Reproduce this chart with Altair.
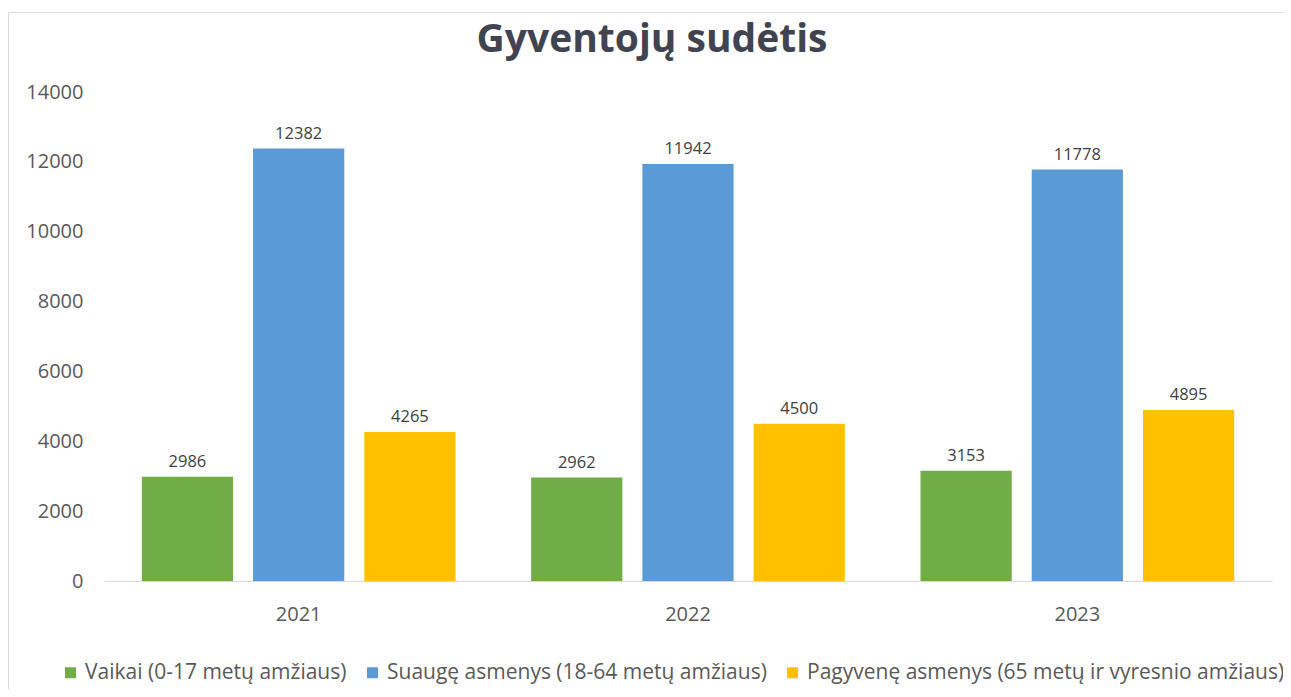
import altair as alt
import pandas as pd

years = ["2021", "2022", "2023"]
groups = [
    "Vaikai (0-17 metų amžiaus)",
    "Suaugę asmenys (18-64 metų amžiaus)",
    "Pagyvenę asmenys (65 metų ir vyresnio amžiaus)",
]
vaikai = [2986, 2962, 3153]
suauge = [12382, 11942, 11778]
pagyvene = [4265, 4500, 4895]
colors = ["#70ad47", "#5b9bd5", "#ffc000"]
y_ticks = [0, 2000, 4000, 6000, 8000, 10000, 12000, 14000]

rows = []
for series, vals in zip(groups, [vaikai, suauge, pagyvene]):
    for yr, v in zip(years, vals):
        rows.append({"Metai": yr, "Grupė": series, "Reikšmė": v})
df = pd.DataFrame(rows)

FONT = "Open Sans"
W, H = 1168, 489

x = alt.X("Metai:N", sort=years, title=None,
          scale=alt.Scale(paddingInner=0, paddingOuter=0),
          axis=alt.Axis(labelAngle=0, ticks=False, domainColor="#d9d9d9",
                        labelFontSize=20, labelColor="#595959", labelPadding=23,
                        labelFont=FONT))
xo = alt.XOffset("Grupė:N", sort=groups,
                 scale=alt.Scale(paddingInner=0.18, paddingOuter=0.34))
y = alt.Y("Reikšmė:Q", title=None,
          scale=alt.Scale(domain=[0, 14000], nice=False),
          axis=alt.Axis(values=y_ticks, grid=False, domain=False, ticks=False,
                        format="d",
                        labelFontSize=20, labelColor="#595959", labelPadding=21,
                        labelFont=FONT))
color = alt.Color("Grupė:N", sort=groups,
                  scale=alt.Scale(domain=groups, range=colors),
                  legend=alt.Legend(title=None, orient="none", direction="horizontal",
                                    legendX=-44, legendY=570, padding=0,
                                    symbolType="square",
                                    symbolSize=121, symbolStrokeWidth=0,
                                    labelFontSize=21, labelColor="#595959",
                                    labelFont=FONT, columnPadding=15, labelLimit=0,
                                    symbolOffset=0, labelOffset=4))

base = alt.Chart(df)
bars = base.mark_bar().encode(x=x, xOffset=xo, y=y, color=color)
labels = base.mark_text(baseline="alphabetic", dy=-10, fontSize=16.5, color="#404040",
                        font=FONT).encode(
    x=x, xOffset=xo, y=y, text=alt.Text("Reikšmė:Q", format="d"))

border = alt.Chart(pd.DataFrame({"a": [0]})).mark_rect(
    fill=None, stroke="#d9d9d9", strokeWidth=1, clip=False).encode(
    x=alt.value(-95.5), x2=alt.value(W + 40), y=alt.value(-79.5), y2=alt.value(H + 140))

chart = alt.layer(border, bars, labels).properties(
    width=W, height=H,
    autosize=alt.AutoSizeParams(type="none"),
    padding={"left": 96, "top": 84, "right": 11, "bottom": 108},
    title=alt.Title("Gyventojų sudėtis", fontSize=39, fontWeight="bold",
                    color="#3f4450", font=FONT, anchor="middle", dx=-36, offset=-48),
).configure(background="white", view=alt.ViewConfig(strokeWidth=0, stroke="transparent"))

chart.save("out.html", embed_options={"renderer": "svg", "actions": False})
